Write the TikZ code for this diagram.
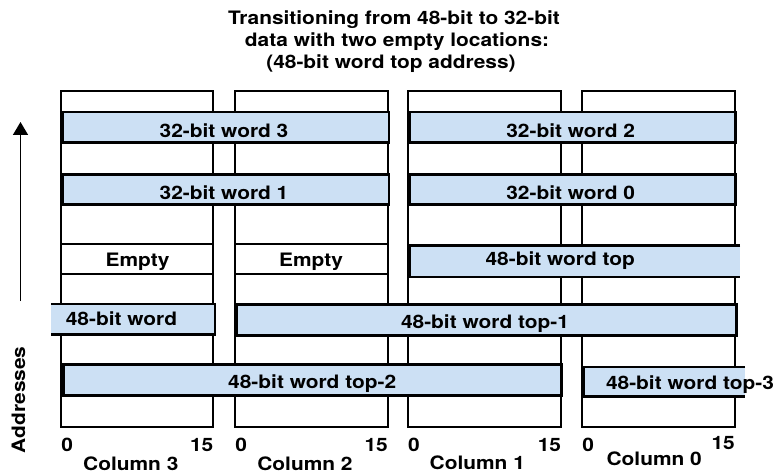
\documentclass[tikz,border=0pt]{standalone}
\usepackage{fontspec}
\setmainfont[FakeStretch=1.13]{TeX Gyre Heros}
\usetikzlibrary{arrows.meta}
\definecolor{wordblue}{RGB}{204,224,244}
\begin{document}
\begin{tikzpicture}[x=1pt,y=-1pt,
  col/.style={draw=black,fill=white,line width=1.8pt},
  rowline/.style={draw=black,line width=1.8pt},
  wbox/.style={draw=black,fill=wordblue,line width=2.7pt},
  wfill/.style={fill=wordblue},
  wedge/.style={draw=black,line width=2.7pt},
  lbl/.style={font=\bfseries\fontsize{18.5}{20}\selectfont,inner sep=0pt,anchor=base},
  lblw/.style={lbl,anchor=base west},
  lble/.style={lbl,anchor=base east},
]
\useasboundingbox (0,0) rectangle (775,473);

% title
\node[lbl] (title1) at (394,25) {Transitioning from 48-bit to 32-bit};
\node[lbl] (title2) at (397,46.7) {data with two empty locations:};
\node[lbl] (title3) at (391,68.3) {(48-bit word top address)};

% columns
\draw[col] (61.2,91.2) rectangle (213.3,427.3);
\draw[col] (235.2,91.2) rectangle (387.8,427.3);
\draw[col] (408,91.2) rectangle (561.3,427.3);
\draw[col] (582.2,91.2) rectangle (735,427.3);

% empty row lines
\draw[rowline] (61.2,244.3) -- (213.3,244.3);
\draw[rowline] (61.2,273.7) -- (213.3,273.7);
\draw[rowline] (235.2,244.3) -- (387.8,244.3);
\draw[rowline] (235.2,273.7) -- (387.8,273.7);

% 32-bit words
\draw[wbox] (62.5,112) rectangle (389,142.2);
\draw[wbox] (409.7,112) rectangle (735.8,142.2);
\draw[wbox] (62.5,174.7) rectangle (389,204.7);
\draw[wbox] (409.7,174.7) rectangle (735.8,204.7);

% 48-bit word top (open right)
\fill[wfill] (408.5,244.3) rectangle (740,278.2);
\draw[wedge] (740,245.5) -- (409.7,245.5) -- (409.7,277) -- (740,277);

% 48-bit word (open left)
\fill[wfill] (51,302.8) rectangle (216.2,335.9);
\draw[wedge] (51,304) -- (215,304) -- (215,334.7) -- (51,334.7);

% 48-bit word top-1
\draw[wbox] (236.7,304.3) rectangle (736.7,335.3);

% 48-bit word top-2
\draw[wbox] (63.5,364.7) rectangle (561.3,395.5);

% 48-bit word top-3 (open right)
\fill[wfill] (582,365.8) rectangle (745,397.4);
\draw[wedge] (745,367) -- (583.2,367) -- (583.2,396.2) -- (745,396.2);

% word labels
\node[lbl] (tw3) at (224,137.3) {32-bit word 3};
\node[lbl] (tw2) at (570.7,137.3) {32-bit word 2};
\node[lbl] (tw1) at (224,199.3) {32-bit word 1};
\node[lbl] (tw0) at (570.7,199.3) {32-bit word 0};
\node[lbl] (empty3) at (137.5,266.7) {Empty};
\node[lbl] (empty2) at (311,266.7) {Empty};
\node[lbl] (ttop) at (560.3,265.7) {48-bit word top};
\node[lbl] (t48) at (121.5,325) {48-bit word};
\node[lbl] (ttop1) at (485,328.3) {48-bit word top-1};
\node[lbl] (ttop2) at (312.2,388.3) {48-bit word top-2};
\node[lbl] (ttop3) at (690,389) {48-bit word top-3};

% address arrow
\coordinate (arrS) at (20.5,301);
\coordinate (arrE) at (20.5,122);
\draw[line width=1.6pt,-{Triangle[width=15pt,length=13pt]}] (arrS) -- (arrE);
\node[lbl,rotate=90] (addr) at (25,399.7) {Addresses};

% bit numbers
\node[lblw] (c3lo) at (61.2,451.3) {0};
\node[lble] (c3hi) at (213.5,451.3) {15};
\node[lblw] (c2lo) at (235.2,451.3) {0};
\node[lble] (c2hi) at (388,451.3) {15};
\node[lblw] (c1lo) at (408,451.3) {0};
\node[lble] (c1hi) at (561.3,451.3) {15};
\node[lblw] (c0lo) at (582.2,451) {0};
\node[lble] (c0hi) at (735,449.5) {15};

% column labels
\node[lbl] (col3) at (130.8,470) {Column 3};
\node[lbl] (col2) at (305,470) {Column 2};
\node[lbl] (col1) at (477.3,469.5) {Column 1};
\node[lbl] (col0) at (654.2,465) {Column 0};
\end{tikzpicture}
\end{document}
